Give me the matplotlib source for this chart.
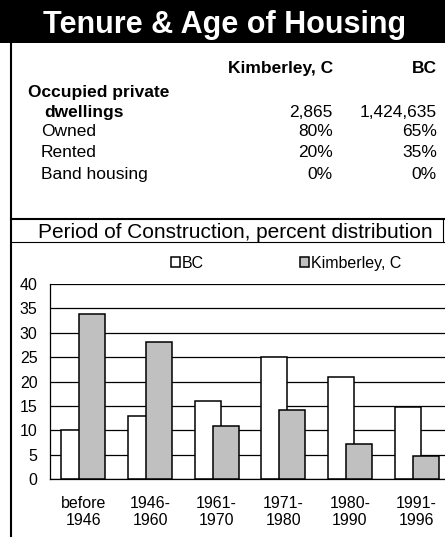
import matplotlib
matplotlib.use("Agg")
import matplotlib.pyplot as plt
from matplotlib.lines import Line2D
from matplotlib.patches import Patch, Rectangle
import numpy as np

plt.rcParams["font.family"] = ["Liberation Sans", "DejaVu Sans"]

# ---- data ----
periods = ["before\n1946", "1946-\n1960", "1961-\n1970", "1971-\n1980", "1980-\n1990", "1991-\n1996"]
bc_pct = [10.1, 12.9, 16.0, 25.1, 21.0, 14.7]
kim_pct = [33.9, 28.2, 10.9, 14.2, 7.2, 4.7]

table_rows = ["Owned", "Rented", "Band housing"]
kim_col = ["80%", "20%", "0%"]
bc_col = ["65%", "35%", "0%"]
dwellings = ["2,865", "1,424,635"]
series_names = ["Kimberley, C", "BC"]

W, H = 445, 538
fig = plt.figure(figsize=(W / 100, H / 100), dpi=100)


def fx(x):
    return x / W


def fy(y):
    return 1 - y / H


# black title banner
fig.add_artist(Rectangle((0, fy(43)), 1, 43 / H, transform=fig.transFigure,
                         facecolor="black", edgecolor="none"))
fig.text(fx(225), fy(33), "Tenure & Age of Housing", color="white",
         fontsize=22, fontweight="bold", ha="center", va="baseline")

# frame lines
fig.add_artist(Line2D([fx(11), fx(11)], [fy(43), fy(536)], color="black", lw=1.5,
                      transform=fig.transFigure))
fig.add_artist(Line2D([fx(11), 1], [fy(219), fy(219)], color="black", lw=1.5,
                      transform=fig.transFigure))
fig.add_artist(Line2D([fx(11), 1], [fy(242), fy(242)], color="black", lw=0.8,
                      transform=fig.transFigure))
fig.add_artist(Line2D([fx(443), fx(443)], [fy(219), fy(242)], color="black", lw=0.8,
                      transform=fig.transFigure))

# table
tfs = 12.5
fig.text(fx(333), fy(73), series_names[0], fontsize=tfs, fontweight="bold", ha="right", va="baseline")
fig.text(fx(437), fy(73), series_names[1], fontsize=tfs, fontweight="bold", ha="right", va="baseline")
fig.text(fx(28), fy(97), "Occupied private", fontsize=tfs, fontweight="bold", va="baseline")
fig.text(fx(44), fy(117), "dwellings", fontsize=tfs, fontweight="bold", va="baseline")
fig.text(fx(333), fy(117), dwellings[0], fontsize=tfs, ha="right", va="baseline")
fig.text(fx(437), fy(117), dwellings[1], fontsize=tfs, ha="right", va="baseline")
for name, k, b, yb in zip(table_rows, kim_col, bc_col, [136, 157, 179]):
    fig.text(fx(41), fy(yb), name, fontsize=tfs, va="baseline")
    fig.text(fx(333), fy(yb), k, fontsize=tfs, ha="right", va="baseline")
    fig.text(fx(437), fy(yb), b, fontsize=tfs, ha="right", va="baseline")

fig.text(fx(235), fy(238), "Period of Construction, percent distribution",
         fontsize=15, ha="center", va="baseline")

# bar chart
ax = fig.add_axes([fx(50), fy(479), 400 / W, 195 / H])
x = np.arange(len(periods))
w = 0.39
off = 0.135
ax.bar(x - off, bc_pct, w, color="white", edgecolor="black", linewidth=1.1, zorder=2, label="BC")
ax.bar(x + off, kim_pct, w, color="#c0c0c0", edgecolor="black", linewidth=1.1, zorder=3,
       label="Kimberley, C")
ax.set_xlim(-0.5, len(periods) - 0.5)
ax.set_ylim(0, 40)
ax.set_yticks(range(0, 41, 5))
ax.set_xticks(x)
ax.set_xticklabels(periods, fontsize=11.5, linespacing=1.2)
ax.tick_params(axis="y", length=0, pad=8.9, labelsize=11.5)
ax.tick_params(axis="x", length=0, pad=12)
ax.yaxis.grid(True, color="black", lw=0.9)
ax.set_axisbelow(True)
for s in ["top", "right"]:
    ax.spines[s].set_visible(False)
ax.spines["left"].set_linewidth(0.9)
ax.spines["bottom"].set_linewidth(0.9)

handles = [Patch(facecolor="white", edgecolor="black", lw=1.1, label="BC"),
           Patch(facecolor="#c0c0c0", edgecolor="black", lw=1.1, label="Kimberley, C")]
fig.legend(handles=handles, loc="center left", bbox_to_anchor=(fx(171), fy(263)),
           ncol=2, frameon=False, fontsize=11.5, handlelength=0.55, handleheight=0.55,
           handletextpad=0.15, columnspacing=6.0, borderpad=0, borderaxespad=0)

fig.savefig("out.png", dpi=100)
